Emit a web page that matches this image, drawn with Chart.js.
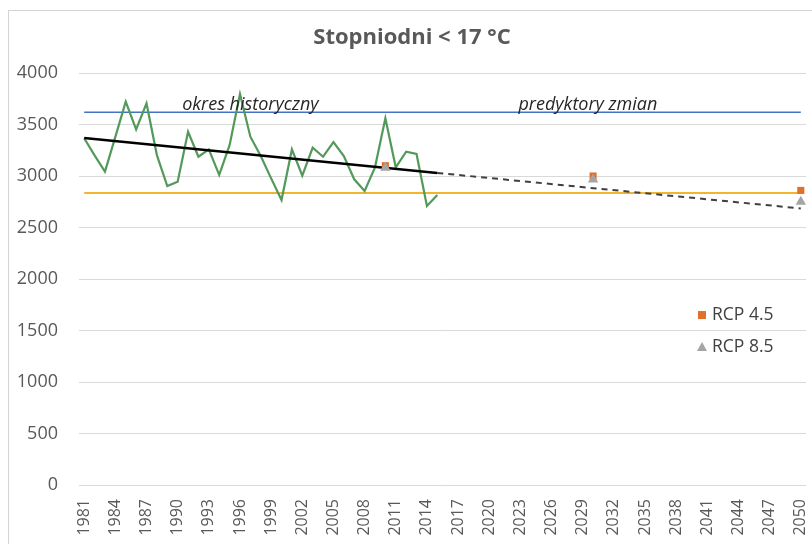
<!DOCTYPE html>
<html>
<head>
<meta charset="utf-8">
<script src="https://cdn.jsdelivr.net/npm/chart.js@4"></script>
<style>
html,body{margin:0;padding:0;background:#fff;}
#wrap{width:812px;height:544px;position:relative;}
</style>
</head>
<body>
<div id="wrap"><canvas id="c" width="812" height="544"></canvas></div>
<script>
const years = [1981,1982,1983,1984,1985,1986,1987,1988,1989,1990,1991,1992,1993,1994,1995,1996,1997,1998,1999,2000,
2001,2002,2003,2004,2005,2006,2007,2008,2009,2010,2011,2012,2013,2014,2015,2016,2017,2018,2019,2020,
2021,2022,2023,2024,2025,2026,2027,2028,2029,2030,2031,2032,2033,2034,2035,2036,2037,2038,2039,2040,
2041,2042,2043,2044,2045,2046,2047,2048,2049,2050];

// Observed degree-days 1981-2015
const observedYears = [1981,1982,1983,1984,1985,1986,1987,1988,1989,1990,1991,1992,1993,1994,1995,1996,1997,1998,1999,2000,
2001,2002,2003,2004,2005,2006,2007,2008,2009,2010,2011,2012,2013,2014,2015];
const observed = [3366,3200,3042,3380,3721,3453,3705,3203,2903,2945,3430,3187,3258,3010,3300,3796,3382,3195,2977,2767,
3258,3003,3275,3187,3330,3194,2968,2854,3084,3560,3084,3236,3214,2709,2816];

// Linear trend (historical, solid) and extrapolation (dashed)
const trendHistYears = [1981, 2015];
const trendHist = [3370, 3030];
const trendProjYears = [2015, 2050];
const trendProj = [3030, 2685];

// Reference horizontal lines
const lineYears = [1981, 2050];
const blueLevel = [3620, 3620];
const yellowLevel = [2835, 2835];

// Scenario points
const rcpYears = [2010, 2030, 2050];
const rcp45 = [3100, 3000, 2860];
const rcp85 = [3080, 2965, 2750];

const yTicks = [0,500,1000,1500,2000,2500,3000,3500,4000];
const tickEvery = 3;

function place(xs, vs){
  const arr = years.map(()=>null);
  xs.forEach((y,i)=>{ arr[years.indexOf(y)] = vs[i]; });
  return arr;
}

const FONT = "'Open Sans', 'Liberation Sans', sans-serif";

const decor = {
  id:'decor',
  beforeDraw(chart){
    const ctx = chart.ctx;
    ctx.save();
    ctx.fillStyle = '#fff';
    ctx.fillRect(0,0,chart.width,chart.height);
    ctx.strokeStyle = '#d4d4d4';
    ctx.lineWidth = 1;
    ctx.strokeRect(8.5, 10.5, chart.width + 10, chart.height + 10);
    ctx.restore();
  },
  afterDraw(chart){
    const ctx = chart.ctx;
    const xs = chart.scales.x, ys = chart.scales.y;
    ctx.save();
    // title
    ctx.fillStyle = '#595959';
    ctx.font = "bold 22px " + FONT;
    ctx.textAlign = 'center';
    ctx.textBaseline = 'middle';
    ctx.fillText('Stopniodni < 17 \u00B0C', 412, 38);
    // annotations
    ctx.fillStyle = '#262626';
    ctx.font = "italic 18px " + FONT;
    ctx.textBaseline = 'alphabetic';
    ctx.fillText('okres historyczny', xs.getPixelForValue(years.indexOf(1997)), ys.getPixelForValue(3640));
    ctx.fillText('predyktory zmian', (xs.getPixelForValue(years.indexOf(2030)) + xs.getPixelForValue(years.indexOf(2029)))/2, ys.getPixelForValue(3640));
    // legend
    const lx = chart.chartArea.right - 104;
    const items = [
      {label:'RCP 4.5', ds: chart.data.datasets[5], y: ys.getPixelForValue(1650)},
      {label:'RCP 8.5', ds: chart.data.datasets[6], y: ys.getPixelForValue(1340)}
    ];
    ctx.font = "17.5px " + FONT;
    ctx.textAlign = 'left';
    ctx.textBaseline = 'middle';
    items.forEach(it=>{
      ctx.fillStyle = it.ds.backgroundColor;
      if (it.ds.pointStyle === 'rect') {
        ctx.fillRect(lx - 4, it.y - 4, 8, 8);
      } else {
        ctx.beginPath();
        ctx.moveTo(lx, it.y - 5);
        ctx.lineTo(lx + 5, it.y + 4);
        ctx.lineTo(lx - 5, it.y + 4);
        ctx.closePath();
        ctx.fill();
      }
      ctx.fillStyle = '#404040';
      ctx.fillText(it.label, lx + 10, it.y);
    });
    ctx.restore();
  }
};

new Chart(document.getElementById('c'), {
  type:'line',
  data:{
    labels: years.map(String),
    datasets:[
      {label:'obs', data: place(observedYears, observed), borderColor:'#52995a', borderWidth:2.2, pointRadius:0, tension:0, order:3},
      {label:'trend', data: place(trendHistYears, trendHist), borderColor:'#000000', borderWidth:2.5, pointRadius:0, spanGaps:true, order:2},
      {label:'trendP', data: place(trendProjYears, trendProj), borderColor:'#404040', borderWidth:2, borderDash:[6,5], pointRadius:0, spanGaps:true, order:2},
      {label:'blue', data: place(lineYears, blueLevel), borderColor:'#4472C4', borderWidth:1.5, pointRadius:0, spanGaps:true, order:5},
      {label:'yellow', data: place(lineYears, yellowLevel), borderColor:'#F2B530', borderWidth:2, pointRadius:0, spanGaps:true, order:5},
      {label:'RCP 4.5', data: place(rcpYears, rcp45), showLine:false, pointStyle:'rect', pointRadius:5, backgroundColor:'#E0702A', borderColor:'#E0702A', borderWidth:0, order:1},
      {label:'RCP 8.5', data: place(rcpYears, rcp85), showLine:false, pointStyle:'triangle', pointRadius:6, backgroundColor:'#A5A5A5', borderColor:'#A5A5A5', borderWidth:0, order:0}
    ]
  },
  options:{
    responsive:false,
    animation:false,
    devicePixelRatio:1,
    layout:{padding:{top:73, right:4, left:0, bottom:0}},
    plugins:{legend:{display:false}, tooltip:{enabled:false}, title:{display:false}},
    scales:{
      x:{
        offset:true,
        grid:{display:false, drawTicks:false},
        border:{display:false},
        ticks:{
          autoSkip:false, maxRotation:90, minRotation:90, padding:14,
          color:'#595959', font:{size:16, family:FONT},
          callback(v, i){ return i % tickEvery === 0 ? String(years[i]) : ''; }
        },
        afterFit(s){ s.height = 59; s.paddingLeft = 0; s.paddingRight = 0; }
      },
      y:{
        min:0, max:4000,
        afterBuildTicks(s){ s.ticks = yTicks.map(v=>({value:v})); },
        grid:{color:'#d9d9d9', lineWidth:1, drawTicks:false},
        border:{display:false},
        ticks:{padding:21, color:'#595959', font:{size:18, family:FONT}, callback(v){ return String(v); }},
        afterFit(s){ s.width = 79; s.paddingTop = 0; s.paddingBottom = 0; }
      }
    }
  },
  plugins:[decor]
});
</script>
</body>
</html>
